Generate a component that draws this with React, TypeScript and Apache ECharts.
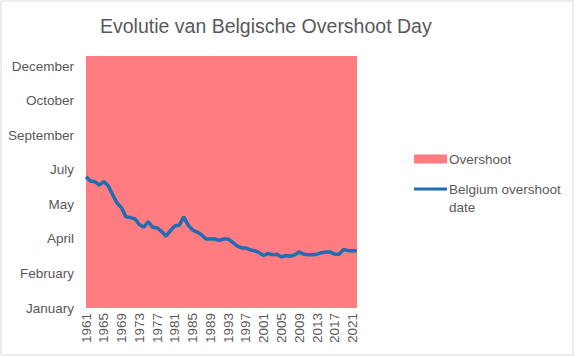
import React, { useEffect, useRef } from "react";
import * as echarts from "echarts";

const years: string[] = [
  "1961","1962","1963","1964","1965","1966","1967","1968","1969","1970",
  "1971","1972","1973","1974","1975","1976","1977","1978","1979","1980",
  "1981","1982","1983","1984","1985","1986","1987","1988","1989","1990",
  "1991","1992","1993","1994","1995","1996","1997","1998","1999","2000",
  "2001","2002","2003","2004","2005","2006","2007","2008","2009","2010",
  "2011","2012","2013","2014","2015","2016","2017","2018","2019","2020",
  "2021","2022",
];

// Day of year of Belgium's overshoot day
const belgiumOvershootDay: number[] = [
  190, 184, 183, 178, 183, 177, 164, 152, 145, 132,
  131, 129, 121, 117, 125, 117, 116, 111, 104, 112,
  119, 120, 132, 120, 113, 110, 106, 100, 100, 100,
  98, 100, 100, 95, 90, 87, 87, 84, 83, 80,
  76, 79, 77, 78, 74, 76, 75, 77, 81, 78,
  77, 77, 78, 80, 81, 81, 78, 78, 85, 83,
  83, 83,
];

// Overshoot area (full year)
const overshootArea: number[] = [
  365, 365, 365, 365, 365, 365, 365, 365, 365, 365,
  365, 365, 365, 365, 365, 365, 365, 365, 365, 365,
  365, 365, 365, 365, 365, 365, 365, 365, 365, 365,
  365, 365, 365, 365, 365, 365, 365, 365, 365, 365,
  365, 365, 365, 365, 365, 365, 365, 365, 365, 365,
  365, 365, 365, 365, 365, 365, 365, 365, 365, 365,
  365, 365,
];

// Y tick labels: month of the day at each 50-day tick
const yTickLabels: Record<number, string> = {
  0: "January",
  50: "February",
  100: "April",
  150: "May",
  200: "July",
  250: "September",
  300: "October",
  350: "December",
};

const FONT = "'Liberation Sans', Arial, sans-serif";
const GREY = "#595959";

export default function App() {
  const ref = useRef<HTMLDivElement>(null);
  useEffect(() => {
    if (!ref.current) return;
    const chart = echarts.init(ref.current, null, { renderer: "svg" });
    chart.setOption({
      animation: false,
      backgroundColor: "#ffffff",
      textStyle: { fontFamily: FONT },
      title: {
        text: "Evolutie van Belgische Overshoot Day",
        left: 95,
        top: 11,
        textStyle: { fontFamily: FONT, fontSize: 19.5, fontWeight: "normal", color: GREY },
      },
      graphic: [
        {
          type: "rect",
          shape: { x: 1, y: 1, width: 572, height: 354 },
          style: { fill: "none", stroke: "#d9d9d9", lineWidth: 1 },
          z: 100,
          silent: true,
        },
        {
          type: "text",
          left: 449,
          top: 200,
          style: { text: "date", fill: GREY, font: `13.5px ${FONT}` },
          silent: true,
        },
      ],
      legend: {
        orient: "vertical",
        left: 414,
        top: 152,
        padding: 0,
        itemGap: 16,
        itemWidth: 33,
        itemHeight: 9,
        textStyle: { fontFamily: FONT, fontSize: 13.5, color: GREY, padding: [0, 0, 0, -3] },
        data: [
          { name: "Overshoot", icon: "rect" },
          { name: "Belgium overshoot", icon: "path://M0,0 L33,0 L33,3 L0,3 Z" },
        ],
      },
      grid: { left: 86, right: 219, top: 56, bottom: 50, containLabel: false },
      xAxis: {
        type: "category",
        data: years,
        boundaryGap: false,
        axisLine: { show: false },
        axisTick: { show: false },
        axisLabel: {
          rotate: 90,
          interval: 3,
          fontSize: 13.5,
          color: GREY,
          fontFamily: FONT,
          margin: 5,
        },
      },
      yAxis: {
        type: "value",
        min: 0,
        max: 365,
        interval: 50,
        splitLine: { show: false },
        axisLine: { show: false },
        axisTick: { show: false },
        axisLabel: {
          fontSize: 13.5,
          color: GREY,
          fontFamily: FONT,
          margin: 12,
          showMaxLabel: false,
          formatter: (v: number) => yTickLabels[v] ?? "",
        },
      },
      series: [
        {
          name: "Overshoot",
          type: "line",
          data: overshootArea,
          symbol: "none",
          lineStyle: { width: 0, color: "#ff7c80" },
          itemStyle: { color: "#ff7c80" },
          areaStyle: { color: "#ff7c80", opacity: 1 },
          z: 1,
        },
        {
          name: "Belgium overshoot",
          type: "line",
          data: belgiumOvershootDay,
          symbol: "none",
          lineStyle: { width: 3.5, color: "#1f6db3" },
          itemStyle: { color: "#1f6db3" },
          z: 2,
        },
      ],
    });
    return () => chart.dispose();
  }, []);
  return (
    <div
      ref={ref}
      style={{ position: "fixed", left: 0, top: 0, width: 576, height: 358 }}
    />
  );
}
